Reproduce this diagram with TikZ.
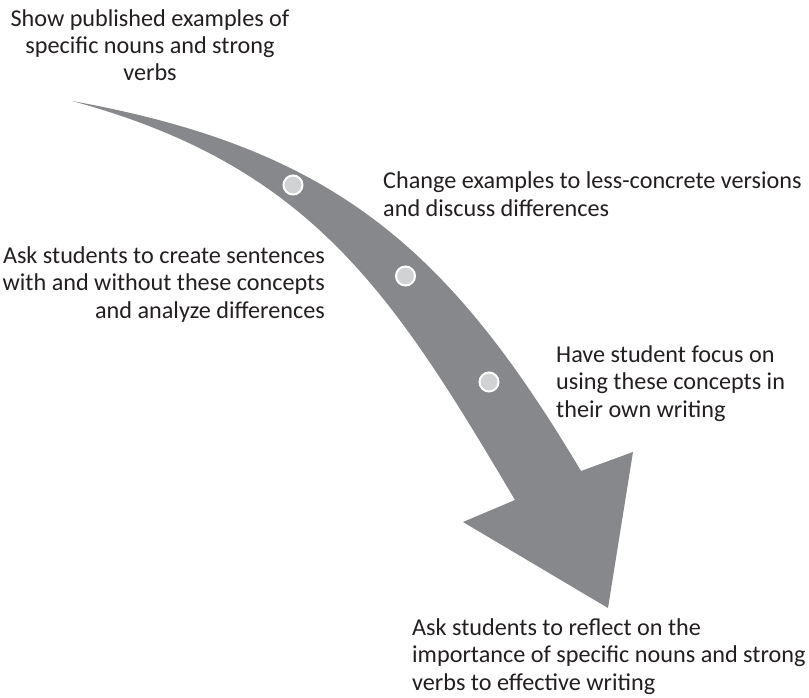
\documentclass[tikz,border=0pt]{standalone}
\usepackage{fontspec}
\setmainfont{Carlito}
\begin{document}
\begin{tikzpicture}[x=1pt,y=-1pt,
  label text/.style={inner sep=0pt, text=inkgray, font=\fontsize{24.2}{27.3}\selectfont},
  stop dot/.style={circle, fill=dotgray, draw=white, line width=2pt, minimum size=19pt, inner sep=0pt}]
\definecolor{bandgray}{RGB}{135,136,140}
\definecolor{dotgray}{RGB}{209,210,212}
\definecolor{inkgray}{RGB}{35,31,32}
\useasboundingbox (0,0) rectangle (809,698);

% curved arrow: tapered band ending in a broad head
\fill[bandgray]
  (72,101) .. controls (332,148) and (447,246) .. (581,471)
  -- (633,452) -- (608,608) -- (463,522) -- (515,500)
  .. controls (393,294) and (312,166) .. (72,101) -- cycle;

% stops along the band
\node[stop dot] (d1) at (293,185) {};
\node[stop dot] (d2) at (405.5,276) {};
\node[stop dot] (d3) at (489,382) {};

% step labels (base anchor sits on the last line)
\node[label text, align=center, anchor=base] (t1) at (150,81)
  {Show published examples of\\specific nouns and strong\\verbs};
\node[label text, align=left, anchor=base west] (t2) at (383,216)
  {Change examples to less-concrete versions\\and discuss differences};
\node[label text, align=right, anchor=base east] (t3) at (325,318)
  {Ask students to create sentences\\with and without these concepts\\and analyze differences};
\node[label text, align=left, anchor=base west] (t4) at (556,417)
  {Have student focus on\\using these concepts in\\their own writing};
\node[label text, align=left, anchor=base west] (t5) at (412,690)
  {Ask students to reflect on the\\importance of specific nouns and strong\\verbs to effective writing};
\end{tikzpicture}
\end{document}
